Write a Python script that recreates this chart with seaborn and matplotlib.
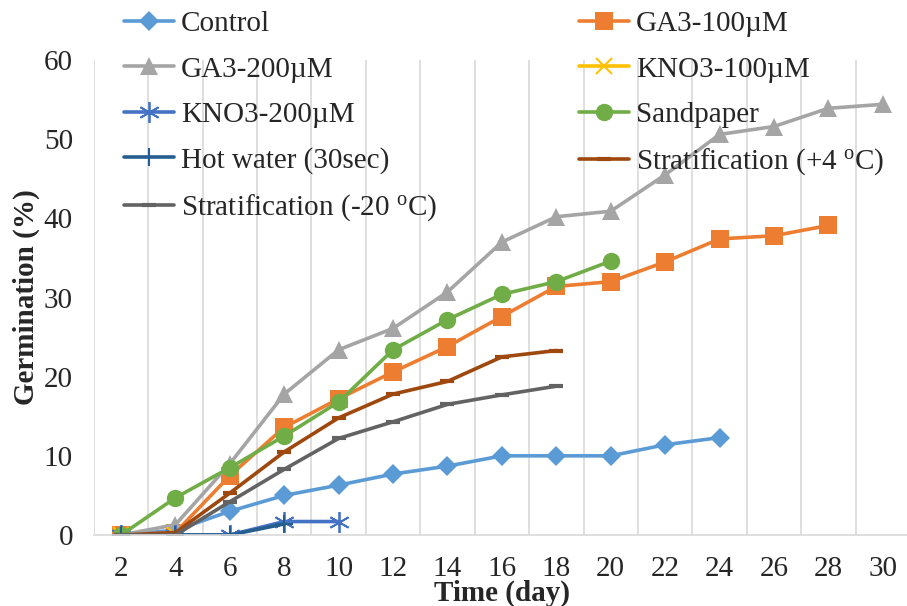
import matplotlib
matplotlib.use("Agg")
import matplotlib.pyplot as plt
import seaborn as sns
import pandas as pd
from matplotlib.lines import Line2D

sns.set_theme(style="white")
plt.rcParams['font.family'] = ['Liberation Serif', 'DejaVu Serif']
plt.rcParams['mathtext.fontset'] = 'custom'
plt.rcParams['mathtext.rm'] = 'Liberation Serif'

# ---- data ----
control_days = [2, 4, 6, 8, 10, 12, 14, 16, 18, 20, 22, 24]
control_vals = [0, 0.6, 3.0, 5.0, 6.3, 7.7, 8.7, 10.0, 10.0, 10.0, 11.4, 12.3]

ga100_days = [2, 4, 6, 8, 10, 12, 14, 16, 18, 20, 22, 24, 26, 28]
ga100_vals = [0, 0.3, 7.5, 13.6, 17.2, 20.6, 23.8, 27.6, 31.4, 32.0, 34.5, 37.4, 37.8, 39.1]

ga200_days = [2, 4, 6, 8, 10, 12, 14, 16, 18, 20, 22, 24, 26, 28, 30]
ga200_vals = [0, 1.3, 9.0, 17.8, 23.4, 26.1, 30.7, 37.0, 40.2, 40.9, 45.5, 50.6, 51.6, 53.9, 54.4]

kno100_days = [2, 4]
kno100_vals = [0, 0]

kno200_days = [2, 4, 6, 8, 10]
kno200_vals = [0, 0, 0, 1.7, 1.7]

hot_days = [2, 4, 6, 8]
hot_vals = [0, 0, 0, 1.4]

sand_days = [2, 4, 6, 8, 10, 12, 14, 16, 18, 20]
sand_vals = [0, 4.7, 8.5, 12.5, 16.8, 23.4, 27.2, 30.4, 32.0, 34.6]

strat4_days = [2, 4, 6, 8, 10, 12, 14, 16, 18]
strat4_vals = [0, 0.3, 5.3, 10.5, 14.8, 17.8, 19.4, 22.5, 23.3]

strat20_days = [2, 4, 6, 8, 10, 12, 14, 16, 18]
strat20_vals = [0, 0, 4.2, 8.3, 12.2, 14.3, 16.5, 17.7, 18.8]

x_ticks = list(range(2, 31, 2))
y_ticks = [0, 10, 20, 30, 40, 50, 60]

series = [
    ("Control", control_days, control_vals, "#5B9BD5", "D", 10, 0),
    ("GA3-100\u00b5M", ga100_days, ga100_vals, "#ED7D31", "s", 12.5, 0),
    ("GA3-200\u00b5M", ga200_days, ga200_vals, "#A5A5A5", "^", 13.5, 0),
    ("KNO3-100\u00b5M", kno100_days, kno100_vals, "#FFC000", "x", 12, 1.5),
    ("KNO3-200\u00b5M", kno200_days, kno200_vals, "#4472C4", (6, 2, 0), 15, 1.3),
    ("Sandpaper", sand_days, sand_vals, "#70AD47", "o", 12.5, 0),
    ("Hot water (30sec)", hot_days, hot_vals, "#255E91", "+", 13, 1.5),
    (r"Stratification (+4 $\mathregular{^{o}}$C)", strat4_days, strat4_vals, "#9E480E", "_", 10, 3),
    (r"Stratification (-20 $\mathregular{^{o}}$C)", strat20_days, strat20_vals, "#636363", "_", 10, 3),
]

FS = 21
fig = plt.figure(figsize=(9.07, 6.06), dpi=100)
W, H = 907, 606
left, right, bottom, top = 93.8, 910, 535, 60
ax = fig.add_axes([left / W, (H - bottom) / H, (right - left) / W, (bottom - top) / H])

LW = 2.6
handles = {}
for name, d, v, c, m, ms, mew in series:
    df = pd.DataFrame({"day": d, "val": v})
    sns.lineplot(data=df, x="day", y="val", ax=ax, color=c, linewidth=LW,
                 marker=m, markersize=ms, markeredgewidth=mew if mew else 0,
                 markeredgecolor=c, markerfacecolor=c, legend=False)
    handles[name] = Line2D([], [], color=c, linewidth=LW, marker=m, markersize=ms,
                           markeredgewidth=mew if mew else 0, markeredgecolor=c,
                           markerfacecolor=c)

ax.set_xlim(1, 31)
ax.set_ylim(0, 60)
ax.set_xticks(x_ticks)
ax.set_xticklabels([str(t) for t in x_ticks], fontsize=FS)
ax.set_yticks(y_ticks)
ax.set_yticklabels([str(t) for t in y_ticks], fontsize=FS)
ax.set_xticks(list(range(1, 32, 2)), minor=True)
ax.grid(False)
ax.grid(True, which="minor", axis="x", color="#D9D9D9", linewidth=1.2)
ax.tick_params(axis="both", which="both", length=0)
ax.tick_params(axis="x", pad=15)
ax.tick_params(axis="y", pad=15)
for s in ["top", "right", "left"]:
    ax.spines[s].set_visible(False)
ax.spines["bottom"].set_color("#D9D9D9")
ax.spines["bottom"].set_linewidth(1.2)
ax.set_xlabel("Time (day)", fontsize=FS, fontweight="bold")
ax.xaxis.set_label_coords(0.5, -(580 - 535) / (bottom - top))
ax.set_ylabel("Germination (%)", fontsize=FS, fontweight="bold")
ax.yaxis.set_label_coords(-(93.8 - 40) / (right - left), 0.5)

names = [s[0] for s in series]
col1 = [names[0], names[2], names[4], names[6], names[8]]
col2 = [names[1], names[3], names[5], names[7]]
leg_kw = dict(frameon=False, fontsize=FS, handlelength=1.7, handletextpad=0.25,
              labelspacing=0.645, borderaxespad=0, borderpad=0)
l1 = fig.legend([handles[n] for n in col1], col1, loc="upper left",
                bbox_to_anchor=(124 / W, 1 - 11 / H), **leg_kw)
l2 = fig.legend([handles[n] for n in col2], col2, loc="upper left",
                bbox_to_anchor=(579 / W, 1 - 11 / H), **leg_kw)

fig.savefig("out.png", dpi=100)
